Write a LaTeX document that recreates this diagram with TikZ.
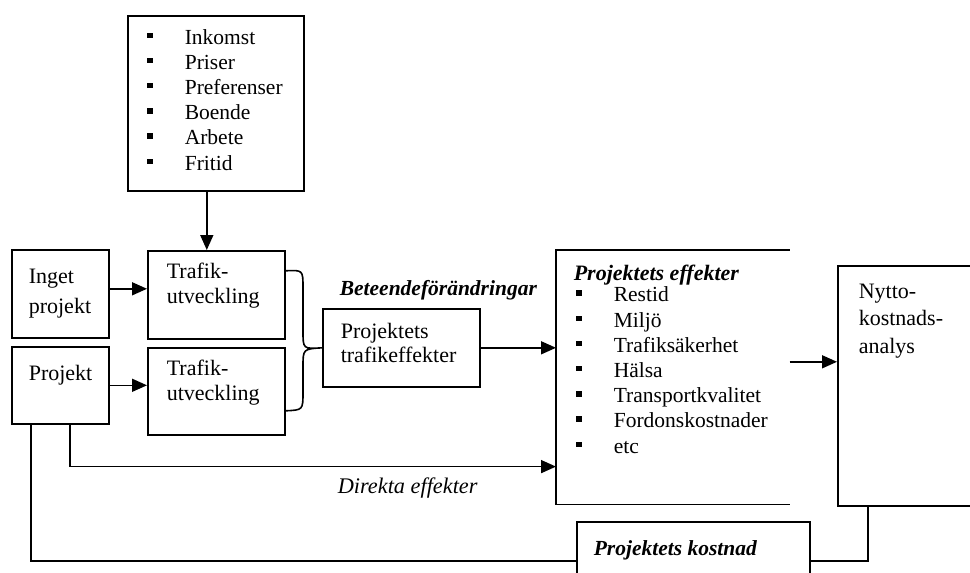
\documentclass[tikz,border=0pt]{standalone}
\usepackage{fontspec}
\setmainfont{Liberation Serif}
\usetikzlibrary{arrows.meta}
\newcommand{\blt}{\makebox[38pt][l]{\rule[6pt]{6pt}{5.5pt}}}
\tikzset{
  box/.style={draw, line width=1.6pt, inner sep=0pt, anchor=north west},
  txt/.style={inner sep=0pt, anchor=base west, align=left, font=\fontsize{22}{25}\selectfont},
  lst/.style={txt, font=\fontsize{21.5}{25.2}\selectfont},
  pil/.style={-{Triangle[length=15pt,width=13pt]}},
}
\begin{document}
\begin{tikzpicture}[x=1pt, y=-1pt, line width=1.6pt]
	\useasboundingbox (0,0) rectangle (970,573);
	\clip (0,0) rectangle (970,573);
	% boxes
	\node[box, minimum width=176pt, minimum height=175pt] (fakt) at (127,15) {};
	\node[box, minimum width=97pt, minimum height=88pt] (inget) at (11,249) {};
	\node[box, minimum width=97pt, minimum height=77pt] (proj) at (11,346) {};
	\node[box, minimum width=137pt, minimum height=88pt] (tu1) at (147,250) {};
	\node[box, minimum width=137pt, minimum height=87pt] (tu2) at (147,347) {};
	\node[box, minimum width=157pt, minimum height=78pt] (pte) at (322,308) {};
	\node[box, draw=none, minimum width=232pt, minimum height=253pt] (eff) at (556,250) {};
	\node[box, minimum width=150pt, minimum height=240pt] (nka) at (837,265) {};
	\node[box, minimum width=233pt, minimum height=78pt] (kost) at (576,521) {};
	\draw (eff.north east) -- (eff.north west) -- (eff.south west) -- (eff.south east);
	% texts (anchored at the baseline of the last line)
	\node[lst] (faktl) at (146,170) {\blt Inkomst\\ \blt Priser\\ \blt Preferenser\\ \blt Boende\\ \blt Arbete\\ \blt Fritid};
	\node[txt, font=\fontsize{22}{30}\selectfont] (ingetl) at (28,313) {Inget\\projekt};
	\node[txt] (projl) at (28,380) {Projekt};
	\node[txt] (tu1l) at (166,303) {Trafik-\\utveckling};
	\node[txt] (tu2l) at (166,400) {Trafik-\\utveckling};
	\node[txt, font=\fontsize{22}{24}\selectfont] (ptel) at (340,362) {Projektets\\trafikeffekter};
	\node[txt, font=\fontsize{21.5}{24}\selectfont\bfseries\itshape] (beteende) at (339,295) {Beteendeförändringar};
	\node[txt, font=\fontsize{22}{25}\selectfont\bfseries\itshape] (effl) at (573,280) {Projektets effekter};
	\node[lst] (effs) at (575,453) {\blt Restid\\ \blt Miljö\\ \blt Trafiksäkerhet\\ \blt Hälsa\\ \blt Transportkvalitet\\ \blt Fordonskostnader\\ \blt etc};
	\node[txt, font=\fontsize{22}{27.5}\selectfont] (nkal) at (858,353) {Nytto-\\kostnads-\\analys};
	\node[txt, font=\fontsize{22.3}{25}\selectfont\itshape] (direkta) at (337,493) {Direkta effekter};
	\node[txt, font=\fontsize{21.5}{25}\selectfont\bfseries\itshape] (kostl) at (593,555) {Projektets kostnad};
	% connectors
	\draw[pil] ([xshift=-9pt]fakt.south) -- ([xshift=-9pt]fakt.south |- tu1.north);
	\draw[pil] ([yshift=5pt]inget.east) -- ([yshift=5pt]inget.east -| tu1.west);
	\draw[pil] (proj.east) -- (proj.east -| tu2.west);
	\draw[pil] (pte.east) -- (pte.east -| eff.west);
	\draw[pil] ([yshift=15.5pt]eff.east) -- ([yshift=15.5pt]eff.east -| nka.west);
	\draw[pil] ([xshift=9.5pt]proj.south) |- ([yshift=38pt]eff.south west);
	\draw ([xshift=-29.5pt]proj.south) |- (kost.west);
	\draw (kost.east) -| ([xshift=31pt]nka.south west);
	\draw ([yshift=24pt]tu1.east) .. controls (303,270) .. (303,288) -- (303,331)
		.. controls (303,349) .. (pte.west) .. controls (303,349) .. (303,367) -- (303,392)
		.. controls (303,410) .. ([yshift=-19.5pt]tu2.east);
\end{tikzpicture}
\end{document}
